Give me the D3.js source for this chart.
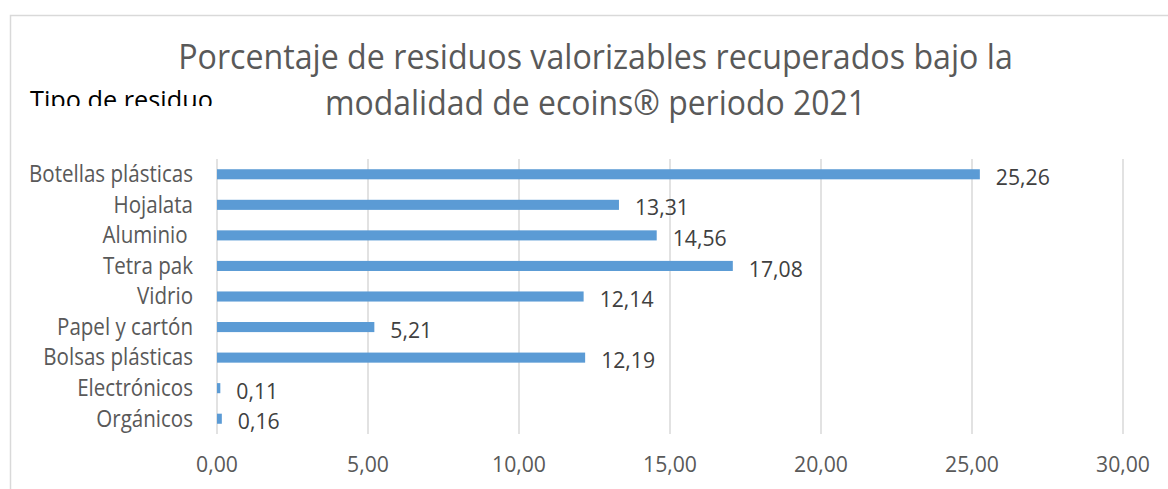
<!DOCTYPE html>
<html>
<head>
<meta charset="utf-8">
<script src="https://cdn.jsdelivr.net/npm/d3@7"></script>
<style>
  body { margin: 0; background: #fff; }
  text { font-family: "Open Sans", sans-serif; }
</style>
</head>
<body>
<div id="chart"></div>
<script>
var categories = ["Botellas plásticas", "Hojalata", "Aluminio ", "Tetra pak", "Vidrio",
    "Papel y cartón", "Bolsas plásticas", "Electrónicos", "Orgánicos"];
var values = [25.26, 13.31, 14.56, 17.08, 12.14, 5.21, 12.19, 0.11, 0.16];
var xTicks = [0, 5, 10, 15, 20, 25, 30];
var titleLines = ["Porcentaje de residuos valorizables recuperados bajo la",
    "modalidad de ecoins® periodo 2021"];
var axisTitle = "Tipo de residuo";

var width = 1168, height = 489;
var textColor = "#595959";

var locale = d3.formatLocale({decimal: ",", thousands: ".", grouping: [3], currency: ["", "€"]});
var fmt = locale.format(".2f");

var svg = d3.select("#chart")
    .append("svg")
    .attr("width", width)
    .attr("height", height);

svg.append("rect")
    .attr("width", width)
    .attr("height", height)
    .attr("fill", "#fff");

// chart area border (runs off the right and bottom of the picture)
svg.append("rect")
    .attr("x", 10.5)
    .attr("y", 15.5)
    .attr("width", 1200)
    .attr("height", 520)
    .attr("fill", "none")
    .attr("stroke", "#d9d9d9")
    .attr("stroke-width", 1.5);

var x = d3.scaleLinear().domain([0, 30]).range([217, 1123]);
var y = d3.scaleBand().domain(categories).range([159, 434])
    .paddingInner(0.67).paddingOuter(0.335);

// font size that makes the text span the measured width
function fit(sel, target) {
    var w = sel.node().getComputedTextLength();
    var fs = parseFloat(sel.attr("font-size"));
    return fs * target / w;
}

// make glyphs taller but keep width (Calibri is narrower than Open Sans)
function squeeze(sel, k) {
    sel.each(function() {
        var t = d3.select(this);
        var w = this.getComputedTextLength();
        t.attr("font-size", parseFloat(t.attr("font-size")) * k)
            .attr("textLength", w)
            .attr("lengthAdjust", "spacingAndGlyphs");
    });
}

// gridlines
svg.append("g")
    .selectAll("line")
    .data(xTicks)
    .enter()
    .append("line")
        .attr("x1", function(d) { return x(d); })
        .attr("x2", function(d) { return x(d); })
        .attr("y1", 159)
        .attr("y2", 434)
        .attr("stroke", "#d9d9d9")
        .attr("stroke-width", 1.5);

// tick labels
var probe = svg.append("text").attr("font-size", 20).text("25,00");
var tickSize = fit(probe, 54);
probe.remove();

var ticks = svg.append("g")
    .selectAll("text")
    .data(xTicks)
    .enter()
    .append("text")
        .attr("x", function(d) { return x(d); })
        .attr("y", 472)
        .attr("text-anchor", "middle")
        .attr("font-size", tickSize)
        .attr("fill", textColor)
        .text(function(d) { return fmt(d); });
squeeze(ticks, 1.06);

// category labels
probe = svg.append("text").attr("font-size", 20).text(categories[0]);
var catSize = fit(probe, 164);
probe.remove();

var cats = svg.append("g")
    .selectAll("text")
    .data(categories)
    .enter()
    .append("text")
        .attr("x", 193)
        .attr("y", function(d) { return y(d) + y.bandwidth() / 2 + catSize * 0.38; })
        .attr("text-anchor", "end")
        .attr("font-size", catSize)
        .attr("fill", textColor)
        .style("white-space", "pre")
        .text(function(d) { return d; });
squeeze(cats, 1.12);

// bars
var data = categories.map(function(c, i) { return {category: c, value: values[i]}; });

svg.append("g")
    .selectAll("rect")
    .data(data)
    .enter()
    .append("rect")
        .attr("x", x(0))
        .attr("y", function(d) { return y(d.category); })
        .attr("width", function(d) { return x(d.value) - x(0); })
        .attr("height", y.bandwidth())
        .attr("fill", "#5b9bd5");

// value labels
var vals = svg.append("g")
    .selectAll("text")
    .data(data)
    .enter()
    .append("text")
        .attr("x", function(d) { return x(d.value) + 16; })
        .attr("y", function(d) { return y(d.category) + y.bandwidth() / 2 + 2.5 + tickSize * 0.38; })
        .attr("font-size", tickSize)
        .attr("fill", "#404040")
        .text(function(d) { return fmt(d.value); });
squeeze(vals, 1.06);

// title
var t1 = svg.append("text")
    .attr("x", 595.5)
    .attr("y", 69)
    .attr("text-anchor", "middle")
    .attr("font-size", 30)
    .attr("fill", textColor)
    .text(titleLines[0]);
var titleSize = fit(t1, 835);
t1.attr("font-size", titleSize);
squeeze(t1, 1.05);

svg.append("text")
    .attr("x", 595.5)
    .attr("y", 115)
    .attr("text-anchor", "middle")
    .attr("font-size", titleSize * 1.05)
    .attr("fill", textColor)
    .attr("textLength", 541)
    .attr("lengthAdjust", "spacingAndGlyphs")
    .text(titleLines[1]);

// axis title, cut off at the bottom as in the original
svg.append("clipPath")
    .attr("id", "clipTitle")
    .append("rect")
        .attr("x", 0)
        .attr("y", 0)
        .attr("width", 300)
        .attr("height", 106);

var at = svg.append("text")
    .attr("x", 30)
    .attr("y", 109)
    .attr("font-size", 22)
    .attr("fill", "#000")
    .attr("clip-path", "url(#clipTitle)")
    .text(axisTitle);
at.attr("font-size", fit(at, 183));
</script>
</body>
</html>
